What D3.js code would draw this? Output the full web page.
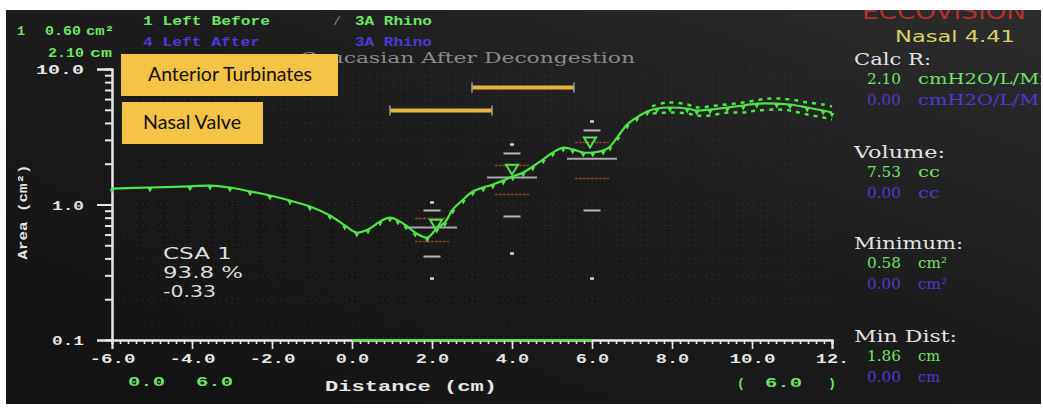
<!DOCTYPE html>
<html><head><meta charset="utf-8">
<script src="https://cdn.jsdelivr.net/npm/d3@7"></script>
<style>body{margin:0;background:#fff}svg{display:block}</style>
</head><body><svg id="c" width="1043" height="410"></svg>
<script>
// ---- data ----
const distance = [-6.0,-5.05,-4.05,-3.55,-3.05,-2.55,-2.05,-1.55,-1.05,-0.55,-0.18,0.12,0.4,0.7,0.95,1.15,1.35,1.58,1.88,2.12,2.32,2.52,2.78,3.02,3.28,3.52,3.78,4.02,4.28,4.52,4.78,5.02,5.28,5.52,5.78,6.02,6.28,6.45,6.65,6.88,7.12,7.38,7.62,7.95,8.38,8.62,8.95,9.38,9.78,10.12,10.62,10.95,11.38,11.78,12.0];
const area = [1.31,1.335,1.36,1.38,1.335,1.25,1.165,1.07,0.967,0.83,0.70,0.62,0.654,0.749,0.80,0.762,0.70,0.62,0.571,0.665,0.736,0.918,1.089,1.247,1.335,1.405,1.503,1.61,1.72,1.907,2.15,2.42,2.63,2.55,2.42,2.42,2.50,2.68,3.18,3.89,4.39,4.86,5.11,5.20,5.11,4.94,5.02,5.20,5.38,5.56,5.56,5.47,5.20,4.94,4.77];
const bandUpperDist = [7.5,7.88,8.38,8.62,9.12,9.78,10.45,10.95,11.38,11.78,12.0];
const bandUpper = [5.30,5.66,5.47,5.20,5.38,5.66,6.06,5.96,5.66,5.47,5.29];
const bandLowerDist = [7.52,7.95,8.38,8.62,8.95,9.38,9.78,10.12,10.62,10.95,11.38,11.78,12.0];
const bandLower = [4.70,4.77,4.70,4.54,4.54,4.77,4.77,4.94,5.02,4.94,4.62,4.39,4.24];
// normative distribution at CSA positions
const normDist = [2, 4, 6];
const normMax = [1.035, 2.77, 4.10];
const normHi2 = [0.903, 2.38, 3.52];
const normHi1 = [0.788, 1.94, 2.87];
const normMean = [0.676, 1.58, 2.18];
const normLo1 = [0.533, 1.185, 1.555];
const normLo2 = [0.413, 0.816, 0.903];
const normMin = [0.284, 0.435, 0.284];
const csaMarkDist = [2.1, 4.0, 5.95];
const csaMarkArea = [0.65, 1.66, 2.63];
// annotation bars (Nasal Valve, Anterior Turbinates)
const barStart = [0.95, 3.0];
const barEnd = [3.5, 5.55];
const barLevel = [4.94, 7.3];
const xMajor = [-6,-4,-2,0,2,4,6,8,10,12];
const xTickLabels = ["-6.0","-4.0","-2.0","0.0","2.0","4.0","6.0","8.0","10.0","12."];
const yMajor = [0.1, 1, 10];
const yTickLabels = ["0.1","1.0","10.0"];

// ---- setup ----
const svg = d3.select("#c");
const x = d3.scaleLinear().domain([-6, 12]).range([112, 832]);
const y = d3.scaleLog().domain([0.1, 10]).range([340, 69]);
const GREEN = "#4fe44a", TGREEN = "#6ee466", BLUE = "#4a3bd6", WHITE = "#e6e6e6";
const MONO = "'Liberation Mono', 'DejaVu Sans Mono', monospace";

const defs = svg.append("defs");
const lg = defs.append("linearGradient").attr("id","bg").attr("x1","0").attr("y1","1").attr("x2","1").attr("y2","0");
lg.append("stop").attr("offset","0").attr("stop-color","#121212");
lg.append("stop").attr("offset","0.55").attr("stop-color","#1c1c1c");
lg.append("stop").attr("offset","1").attr("stop-color","#2c2c2c");

svg.append("rect").attr("width",1043).attr("height",410).attr("fill","#fff");
svg.append("rect").attr("x",6).attr("y",10).attr("width",1035).attr("height",394).attr("fill","url(#bg)");

// grid
const grid = svg.append("g").attr("stroke","#3c3c3c").attr("stroke-width",1).attr("stroke-dasharray","1,5");
grid.selectAll("line.v").data(d3.range(-5, 12, 1)).join("line")
  .attr("x1", d=>x(d)).attr("x2", d=>x(d)).attr("y1", y(10)).attr("y2", y(0.1));
const minorY = [0.2,0.3,0.4,0.5,0.6,0.7,0.8,0.9,2,3,4,5,6,7,8,9];
grid.selectAll("line.h").data(minorY.concat([1])).join("line")
  .attr("x1", x(-6)).attr("x2", x(12)).attr("y1", d=>y(d)).attr("y2", d=>y(d));

// header texts
function txt(str, px, py, opts) {
  const t = svg.append("text").attr("x", px).attr("y", py).text(str)
    .attr("font-family", opts.font || MONO).attr("font-size", opts.size || 13)
    .attr("font-weight", opts.weight || "bold").attr("fill", opts.fill || WHITE);
  if (opts.len) t.attr("textLength", opts.len).attr("lengthAdjust","spacingAndGlyphs");
  if (opts.anchor) t.attr("text-anchor", opts.anchor);
  return t;
}
txt("1", 17, 35, {fill:TGREEN, len:8});
txt("0.60", 45, 35, {fill:TGREEN, len:36});
txt("cm²", 86, 35, {fill:TGREEN, len:28});
txt("2.10", 48, 57, {fill:TGREEN, len:36});
txt("cm", 90, 57, {fill:TGREEN, len:22});
txt("1 Left Before", 143, 25, {fill:TGREEN, len:127});
txt("4 Left After", 143, 46, {fill:BLUE, len:117});
txt("/", 333, 25, {fill:"#777", len:8});
txt("3A Rhino", 355, 25, {fill:TGREEN, len:77});
txt("3A Rhino", 355, 46, {fill:BLUE, len:77});
txt("Caucasian After Decongestion", 300, 63, {font:"'DejaVu Serif', serif", weight:"normal", size:15, fill:"#8a8a8a", len:335});
txt("ECCOVISION", 862, 19, {font:"'DejaVu Sans', sans-serif", weight:"normal", size:22, fill:"#b3302c", len:164});

// y axis
const yMinorAxis = d3.axisLeft(y).tickValues(minorY).tickSize(7).tickFormat("");
const yMajorAxis = d3.axisLeft(y).tickValues(yMajor).tickSize(15).tickPadding(13)
  .tickFormat((d,i)=>yTickLabels[i]);
const gy1 = svg.append("g").attr("transform","translate(112,0)").call(yMinorAxis);
const gy2 = svg.append("g").attr("transform","translate(112,0)").call(yMajorAxis);
[gy1, gy2].forEach(g=>{ g.select(".domain").attr("stroke",WHITE).attr("stroke-width",2);
  g.selectAll(".tick line").attr("stroke",WHITE).attr("stroke-width",2); });
gy2.selectAll(".tick text").attr("fill",WHITE).attr("font-family",MONO).attr("font-weight","bold")
  .attr("font-size",13).attr("dy","0.36em")
  .attr("textLength", (d,i)=>[32,32,48][i]).attr("lengthAdjust","spacingAndGlyphs");

// x axis
const xMinorAxis = d3.axisBottom(x).tickValues(d3.range(-6, 12.001, 0.2)).tickSize(4).tickFormat("");
const xMajorAxis = d3.axisBottom(x).tickValues(xMajor).tickSize(9).tickPadding(5)
  .tickFormat((d,i)=>xTickLabels[i]);
const gx1 = svg.append("g").attr("transform","translate(0,340)").call(xMinorAxis);
const gx2 = svg.append("g").attr("transform","translate(0,340)").call(xMajorAxis);
[gx1, gx2].forEach(g=>{ g.select(".domain").attr("stroke",WHITE).attr("stroke-width",2);
  g.selectAll(".tick line").attr("stroke",WHITE).attr("stroke-width",1.6); });
gx2.selectAll(".tick text").attr("fill",WHITE).attr("font-family",MONO).attr("font-weight","bold")
  .attr("font-size",13).attr("textLength", (d,i)=>xTickLabels[i].length*12.5 - 4).attr("lengthAdjust","spacingAndGlyphs");
svg.append("line").attr("x1",x(0)).attr("x2",x(6)).attr("y1",340).attr("y2",340)
  .attr("stroke",GREEN).attr("stroke-width",2.2);

// axis titles & info
txt("Distance (cm)", 325, 391, {fill:WHITE, size:14, len:172});
txt("0.0", 128, 386, {fill:TGREEN, len:37});
txt("6.0", 196, 386, {fill:TGREEN, len:37});
txt("(", 737, 387, {fill:TGREEN, len:8});
txt("6.0", 765, 387, {fill:TGREEN, len:37});
txt(")", 828, 387, {fill:TGREEN, len:8});
svg.append("text").attr("transform","translate(27,212) rotate(-90)").attr("text-anchor","middle")
  .attr("font-family",MONO).attr("font-weight","bold").attr("font-size",13).attr("fill",WHITE)
  .attr("textLength",95).attr("lengthAdjust","spacingAndGlyphs").text("Area (cm²)");
const SANS = "'DejaVu Sans', sans-serif";
txt("CSA 1", 163, 259, {font:SANS, weight:"normal", size:15, fill:"#ddd", len:69});
txt("93.8  %", 163, 278, {font:SANS, weight:"normal", size:15, fill:"#ddd", len:80});
txt("-0.33", 163, 297, {font:SANS, weight:"normal", size:15, fill:"#ddd", len:53});

// normative marks
const norm = svg.append("g");
function hmark(vals, w, color, dash, sw) {
  norm.selectAll(null).data(normDist).join("line")
    .attr("x1", d=>x(d)-w/2).attr("x2", d=>x(d)+w/2)
    .attr("y1", (d,i)=>y(vals[i])).attr("y2", (d,i)=>y(vals[i]))
    .attr("stroke", color).attr("stroke-width", sw).attr("stroke-dasharray", dash);
}
hmark(normMax, 4, "#cfcfcf", null, 2.5);
hmark(normMin, 4, "#cfcfcf", null, 2.5);
hmark(normHi2, 17, "#b8b8b8", null, 2);
hmark(normLo2, 17, "#b8b8b8", null, 2);
hmark(normHi1, 34, "#8a4430", "3,1", 1.6);
hmark(normLo1, 34, "#8a4430", "3,1", 1.6);
hmark(normMean, 50, "#a8a8a8", null, 2);

// curve
const pts = distance.map((d,i)=>[d, area[i]]);
const line = d3.line().x(d=>x(d[0])).y(d=>y(d[1])).curve(d3.curveCatmullRom);
svg.append("path").attr("d", line(pts)).attr("fill","none").attr("stroke",GREEN).attr("stroke-width",2.2);
svg.append("g").selectAll("path").data(pts).join("path")
  .attr("transform", d=>`translate(${x(d[0])},${y(d[1])+2}) rotate(180)`)
  .attr("d", d3.symbol().type(d3.symbolTriangle).size(11)).attr("fill",GREEN);
const bU = bandUpperDist.map((d,i)=>[d, bandUpper[i]]);
const bL = bandLowerDist.map((d,i)=>[d, bandLower[i]]);
[bU, bL].forEach(b=>svg.append("path").attr("d", line(b)).attr("fill","none")
  .attr("stroke",GREEN).attr("stroke-width",2.5).attr("stroke-dasharray","4,5"));

// CSA markers
svg.append("g").selectAll("path").data(csaMarkDist).join("path")
  .attr("d", (d,i)=>{ const px=x(d), py=y(csaMarkArea[i]);
    return `M${px-6},${py-10}L${px+6},${py-10}L${px},${py}Z`; })
  .attr("fill","none").attr("stroke",GREEN).attr("stroke-width",2);

// gold bars
const bars = svg.append("g");
bars.selectAll("line.b").data(barStart).join("line")
  .attr("x1", d=>x(d)).attr("x2", (d,i)=>x(barEnd[i]))
  .attr("y1", (d,i)=>y(barLevel[i])).attr("y2", (d,i)=>y(barLevel[i]))
  .attr("stroke","#e6b43c").attr("stroke-width",4);
barStart.forEach((s,i)=>{[s, barEnd[i]].forEach(e=>{
  bars.append("line").attr("x1",x(e)).attr("x2",x(e)).attr("y1",y(barLevel[i])-5).attr("y2",y(barLevel[i])+5)
    .attr("stroke","#9a9a9a").attr("stroke-width",1.5);});});

// yellow label boxes
svg.append("rect").attr("x",121).attr("y",54).attr("width",217).attr("height",42).attr("fill","#f4c244");
svg.append("rect").attr("x",122).attr("y",102).attr("width",141).attr("height",42).attr("fill","#f4c244");
txt("Anterior Turbinates", 148, 81, {font:"Lato, 'Open Sans', sans-serif", weight:"normal", size:19, fill:"#111", len:164});
txt("Nasal Valve", 143, 129, {font:"Lato, 'Open Sans', sans-serif", weight:"normal", size:19, fill:"#111", len:98});

// right panel
const SERIF = "'DejaVu Serif', serif";
txt("Nasal 4.41", 895, 42, {font:SANS, weight:"normal", size:15, fill:"#d8d266", len:120});
const labels = [["Calc R:",65,77],["Volume:",158,91],["Minimum:",249,109],["Min Dist:",342,103]];
labels.forEach(l=>txt(l[0], 854, l[1], {font:SERIF, weight:"normal", size:16, fill:"#e2e2e2", len:l[2]}));
const vals = [["2.10","cmH2O/L/Min",84,TGREEN,140],["0.00","cmH2O/L/Min",105,BLUE,140],
  ["7.53","cc",177,TGREEN,22],["0.00","cc",198,BLUE,22],
  ["0.58","cm²",268,TGREEN,29],["0.00","cm²",289,BLUE,29],
  ["1.86","cm",361,TGREEN,22],["0.00","cm",382,BLUE,22]];
vals.forEach(v=>{ txt(v[0], 867, v[2], {font:SERIF, weight:"normal", size:14, fill:v[3], len:34});
  txt(v[1], 918, v[2], {font:SERIF, weight:"normal", size:14, fill:v[3], len:v[4]}); });

// frame borders (photo edge)
svg.append("rect").attr("x",0).attr("y",0).attr("width",1043).attr("height",10).attr("fill","#fff");
svg.append("rect").attr("x",0).attr("y",404).attr("width",1043).attr("height",6).attr("fill","#fff");
svg.append("rect").attr("x",1041).attr("y",0).attr("width",2).attr("height",410).attr("fill","#fff");
</script></body></html>
